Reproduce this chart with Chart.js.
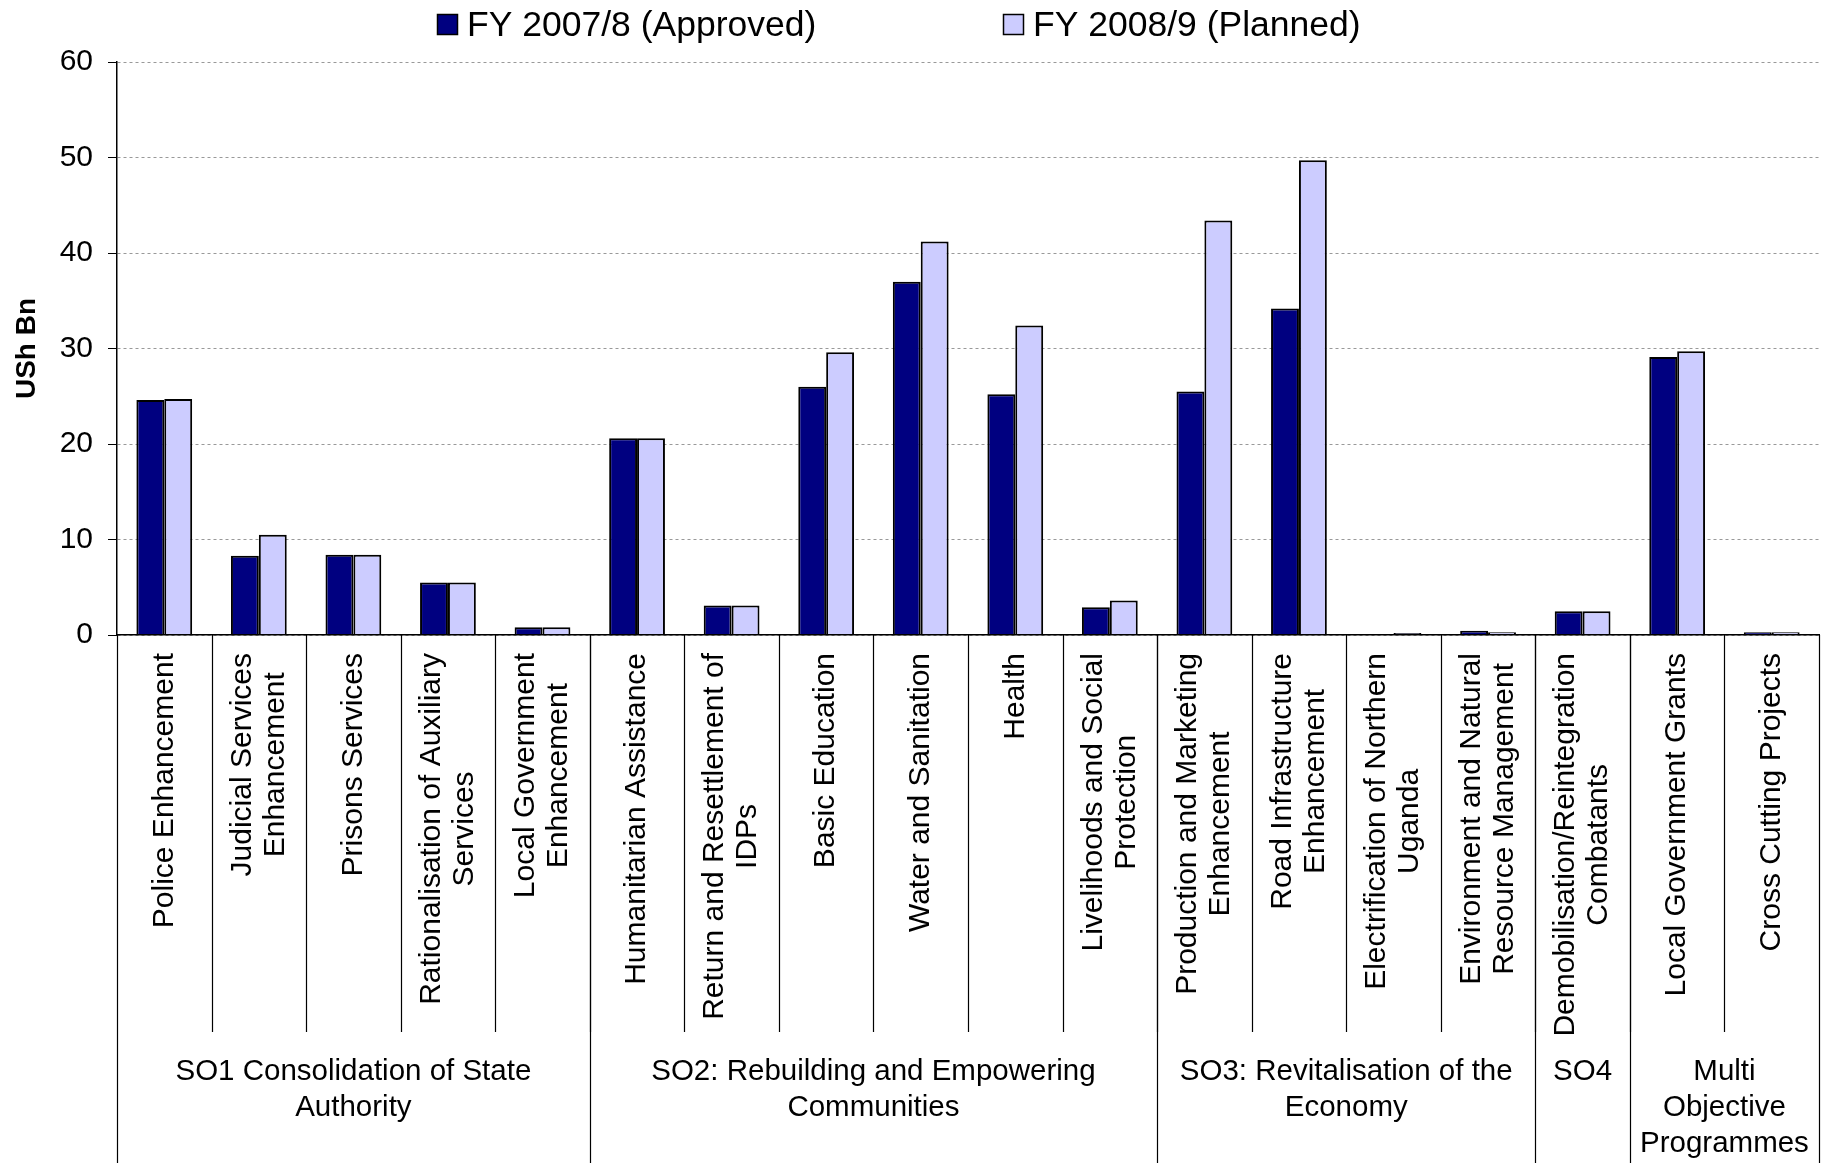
<!DOCTYPE html>
<html>
<head>
<meta charset="utf-8">
<script src="https://cdn.jsdelivr.net/npm/chart.js@4"></script>
<style>
  html, body { margin: 0; padding: 0; background: #fff; }
  #wrap { width: 1828px; height: 1163px; }
</style>
</head>
<body>
<div id="wrap"><canvas id="chart" width="1828" height="1163"></canvas></div>
<script>
var categories = [
  ['Police Enhancement'],
  ['Judicial Services', 'Enhancement'],
  ['Prisons Services'],
  ['Rationalisation of Auxiliary', 'Services'],
  ['Local Government', 'Enhancement'],
  ['Humanitarian Assistance'],
  ['Return and Resettlement of', 'IDPs'],
  ['Basic Education'],
  ['Water and Sanitation'],
  ['Health'],
  ['Livelihoods and Social', 'Protection'],
  ['Production and Marketing', 'Enhancement'],
  ['Road Infrastructure', 'Enhancement'],
  ['Electrification of Northern', 'Uganda'],
  ['Environment and Natural', 'Resource Management'],
  ['Demobilisation/Reintegration', 'Combatants'],
  ['Local Government Grants'],
  ['Cross Cutting Projects']
];
var approved = [24.6, 8.3, 8.4, 5.5, 0.8, 20.6, 3.1, 26.0, 37.0, 25.2, 2.9, 25.5, 34.2, 0, 0.45, 2.5, 29.1, 0.3];
var planned  = [24.7, 10.5, 8.4, 5.5, 0.8, 20.6, 3.1, 29.6, 41.2, 32.4, 3.6, 43.4, 49.7, 0.2, 0.3, 2.5, 29.7, 0.3];
var groupNames = [
  ['SO1 Consolidation of State', 'Authority'],
  ['SO2: Rebuilding and Empowering', 'Communities'],
  ['SO3: Revitalisation of the', 'Economy'],
  ['SO4'],
  ['Multi', 'Objective', 'Programmes']
];
var groupSizes = [5, 6, 4, 1, 2];
var seriesNames = ['FY 2007/8 (Approved)', 'FY 2008/9 (Planned)'];
var seriesColors = ['#000080', '#CCCCFF'];
var yMin = 0, yMax = 60, yStep = 10;

var FONT = '"Liberation Sans", Arial, sans-serif';

// category names, group brackets and legend drawn on top of the chart
var groupAxis = {
  id: 'groupAxis',
  afterDraw: function (chart) {
    var ctx = chart.ctx, x = chart.scales.x, area = chart.chartArea;
    var half = (x.getPixelForValue(1) - x.getPixelForValue(0)) / 2;
    var axisY = area.bottom, sepEnd = axisY + 397, bottom = chart.height;
    ctx.save();
    ctx.strokeStyle = '#000';
    ctx.lineWidth = 1.2;

    // separators between categories
    for (var i = 1; i < categories.length; i++) {
      var px = Math.round(x.getPixelForValue(i) - half) + 0.5;
      ctx.beginPath(); ctx.moveTo(px, axisY); ctx.lineTo(px, sepEnd); ctx.stroke();
    }
    // group separators, full height
    var start = 0;
    var bounds = [0];
    groupSizes.forEach(function (n) { start += n; bounds.push(start); });
    bounds.forEach(function (b) {
      var px = Math.round(x.getPixelForValue(b) - half) + 0.5;
      ctx.beginPath(); ctx.moveTo(px, axisY); ctx.lineTo(px, bottom); ctx.stroke();
    });

    // rotated category labels, top aligned, lines centred
    ctx.fillStyle = '#000';
    ctx.font = '30px ' + FONT;
    ctx.textAlign = 'center';
    ctx.textBaseline = 'middle';
    var lh = 33;
    categories.forEach(function (lines, i) {
      var w = 0;
      lines.forEach(function (t) { w = Math.max(w, ctx.measureText(t).width); });
      ctx.save();
      ctx.translate(x.getPixelForValue(i), axisY + 18 + w / 2);
      ctx.rotate(-Math.PI / 2);
      lines.forEach(function (t, j) {
        ctx.fillText(t, 0, (j - (lines.length - 1) / 2) * lh);
      });
      ctx.restore();
    });

    // group labels
    ctx.font = '29.5px ' + FONT;
    for (var g = 0; g < groupNames.length; g++) {
      var cx = (x.getPixelForValue(bounds[g]) + x.getPixelForValue(bounds[g + 1] - 1)) / 2;
      groupNames[g].forEach(function (t, j) {
        ctx.fillText(t, cx, axisY + 437 + j * 36);
      });
    }

    // legend
    var legendX = [437, 1003];
    ctx.font = '35.5px ' + FONT;
    ctx.textAlign = 'left';
    seriesNames.forEach(function (name, k) {
      ctx.fillStyle = seriesColors[k];
      ctx.fillRect(legendX[k], 14, 21, 21);
      ctx.lineWidth = 1.5;
      ctx.strokeRect(legendX[k] + 0.5, 14.5, 20, 20);
      ctx.fillStyle = '#000';
      ctx.fillText(name, legendX[k] + 30, 26);
    });
    ctx.restore();
  }
};

new Chart(document.getElementById('chart'), {
  type: 'bar',
  data: {
    labels: categories,
    datasets: [{
      label: seriesNames[0],
      data: approved,
      backgroundColor: seriesColors[0],
      borderColor: '#000',
      borderWidth: 2
    }, {
      label: seriesNames[1],
      data: planned,
      backgroundColor: seriesColors[1],
      borderColor: '#000',
      borderWidth: 2
    }]
  },
  options: {
    responsive: false,
    animation: false,
    categoryPercentage: 0.59,
    barPercentage: 1,
    layout: { padding: { top: 62, right: 9, left: 0, bottom: 0 } },
    plugins: {
      legend: { display: false },
      tooltip: { enabled: false }
    },
    scales: {
      x: {
        grid: { display: false },
        border: { display: true, color: '#000', width: 1.5, z: 1 },
        ticks: { display: false },
        afterFit: function (scale) { scale.height = 528; }
      },
      y: {
        min: yMin,
        max: yMax,
        ticks: {
          stepSize: yStep,
          color: '#000',
          padding: 15,
          font: { family: FONT, size: 30 }
        },
        grid: {
          color: '#999',
          lineWidth: 1,
          tickLength: 9,
          tickColor: '#000',
          tickBorderDash: []
        },
        border: { display: true, color: '#000', width: 1.5, dash: [3, 3] },
        title: {
          display: true,
          text: 'USh Bn',
          color: '#000',
          padding: { top: 10, bottom: 0 },
          font: { family: FONT, size: 28, weight: 'bold' }
        },
        afterFit: function (scale) { scale.width = 117; }
      }
    }
  },
  plugins: [groupAxis]
});
</script>
</body>
</html>
